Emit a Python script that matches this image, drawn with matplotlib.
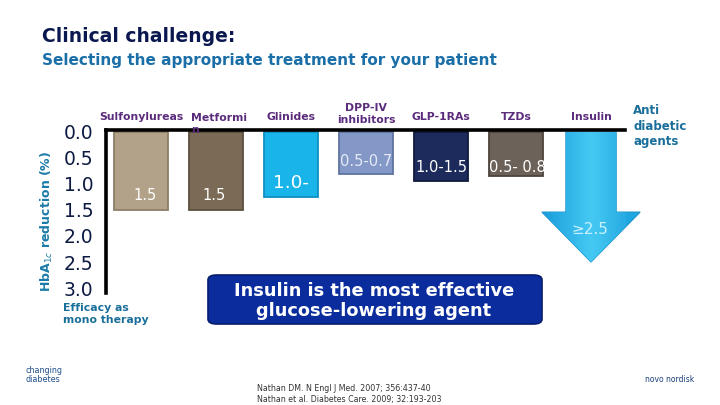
import numpy as np
import matplotlib
matplotlib.use('Agg')
import matplotlib.pyplot as plt
from matplotlib.patches import FancyBboxPatch, FancyArrow

# data
agents = ['Sulfonylureas', 'Metformi\nn', 'Glinides', 'DPP-IV\ninhibitors', 'GLP-1RAs', 'TZDs', 'Insulin']
reduction = [1.5, 1.5, 1.25, 0.8, 0.95, 0.85]   # bar depth (HbA1c %)
insulin_reduction = 2.5
value_labels = ['1.5', '1.5', '1.0-', '0.5-0.7', '1.0-1.5', '0.5- 0.8', '\u22652.5']
yticks = [0.0, 0.5, 1.0, 1.5, 2.0, 2.5, 3.0]

bar_colors = ['#b3a28a', '#7b6b56', '#19b5ea', '#8398c7', '#1c2b5b', '#6c625a']
edge_colors = ['#8e7e68', '#5c4f3e', '#0f8fc0', '#5f74a3', '#0f1a3d', '#4c443e']
label_colors = ['white', 'white', 'white', '#e3e9f6', 'white', 'white', '#c9f1ff']
label_sizes = [10.5, 10.5, 13.3, 10.5, 10.5, 10.5, 11]
label_y = [1.22, 1.22, 0.98, 0.56, 0.69, 0.69, 1.88]
label_dx = [0.06, -0.02, 0.0, 0.0, 0.0, 0.02, -0.02]

W, H = 720, 405
fig = plt.figure(figsize=(7.2, 4.05), dpi=100)
fig.patch.set_facecolor('white')

def fx(px):
    return px / W

def fy(py):
    return 1 - py / H

ax = fig.add_axes([fx(106), fy(293), fx(625) - fx(106), fy(130) - fy(293)])
ax.patch.set_alpha(0)

x = np.arange(len(agents))
ax.bar(x[:6], reduction, width=0.73, bottom=0, color=bar_colors,
       edgecolor=edge_colors, linewidth=1.3, zorder=2)

# insulin arrow with a cyan gradient
arr = FancyArrow(x[6], 0.0, 0, insulin_reduction, width=0.67, head_width=1.31,
                 head_length=0.96, length_includes_head=True,
                 facecolor='#1ea8e2', edgecolor='#1790cc', linewidth=0.8, zorder=2)
ax.add_patch(arr)
arr.set_clip_on(False)
grad = np.abs(np.linspace(-1, 1, 200))[None, :]
im = ax.imshow(grad, cmap=matplotlib.colors.LinearSegmentedColormap.from_list(
    'cy', ['#45c9f3', '#1a9ddb']), extent=[x[6] - 0.66, x[6] + 0.66, insulin_reduction, 0],
    aspect='auto', zorder=2.5)
im.set_clip_path(arr)
im.set_clip_box(None)

ax.set_xlim(-0.467, 6.453)
ax.set_ylim(3.096, -0.038)

for i, t in enumerate(value_labels):
    ax.text(x[i] + label_dx[i], label_y[i], t, ha='center', va='center',
            color=label_colors[i], fontsize=label_sizes[i], zorder=3)

# category labels above the top line
purple = '#5b2c7c'
for i, name in enumerate(agents):
    if i == 1:
        ax.text(x[i] - 0.33, -0.15, name, ha='left', va='center', fontsize=7.8,
                fontweight='bold', color=purple, linespacing=1.3, clip_on=False, zorder=4)
        continue
    yy = -0.35 if '\n' in name else -0.29
    ax.text(x[i], yy, name, ha='center', va='center', fontsize=7.8,
            fontweight='bold', color=purple, linespacing=1.25, clip_on=False)

for s in ['right', 'bottom']:
    ax.spines[s].set_visible(False)
ax.spines['left'].set_linewidth(2.6)
ax.spines['top'].set_linewidth(2.6)
ax.set_xticks([])
ax.set_yticks(yticks)
ax.set_yticklabels(['%.1f' % v for v in yticks], fontsize=13.5, color='#0d1a42')
ax.tick_params(axis='y', length=0, pad=9)

fig.text(fx(47), fy(221), 'HbA$_{1c}$ reduction (%)', rotation=90, ha='center', va='center',
         fontsize=9, fontweight='bold', color='#1a7aa8')

fig.text(fx(42), fy(36), 'Clinical challenge:', fontsize=13.5, fontweight='bold',
         color='#0b1850', va='center')
fig.text(fx(42), fy(60), 'Selecting the appropriate treatment for your patient',
         fontsize=11, fontweight='bold', color='#1a6fa8', va='center')

fig.text(fx(633), fy(126), 'Anti\ndiabetic\nagents', fontsize=8.5, fontweight='bold',
         color='#1a6f9a', va='center', ha='left', linespacing=1.3)
fig.text(fx(63), fy(314), 'Efficacy as\nmono therapy', fontsize=7.8, fontweight='bold',
         color='#1a6f9a', va='center', ha='left', linespacing=1.15)

box = FancyBboxPatch((fx(208), fy(324)), fx(334), fy(275) - fy(324),
                     boxstyle='round,pad=0.0,rounding_size=0.012', transform=fig.transFigure,
                     facecolor='#0b2c9c', edgecolor='#061d6b', linewidth=1.2)
fig.patches.append(box)
fig.text(fx(374), fy(301), 'Insulin is the most effective\nglucose-lowering agent',
         ha='center', va='center', fontsize=12.8, fontweight='bold', color='white',
         linespacing=1.1)

fig.text(fx(257), fy(394), 'Nathan DM. N Engl J Med. 2007; 356:437-40\nNathan et al. Diabetes Care. 2009; 32:193-203',
         fontsize=5.7, color='#333333', ha='left', va='center', linespacing=1.25)

fig.text(fx(25), fy(375), 'changing\ndiabetes', fontsize=5.8, color='#1d4f8c',
         ha='left', va='center', linespacing=0.9)
fig.text(fx(670), fy(379), 'novo nordisk', fontsize=5.5, color='#1a3f7a',
         ha='center', va='center')

fig.savefig('out.png', dpi=100)
